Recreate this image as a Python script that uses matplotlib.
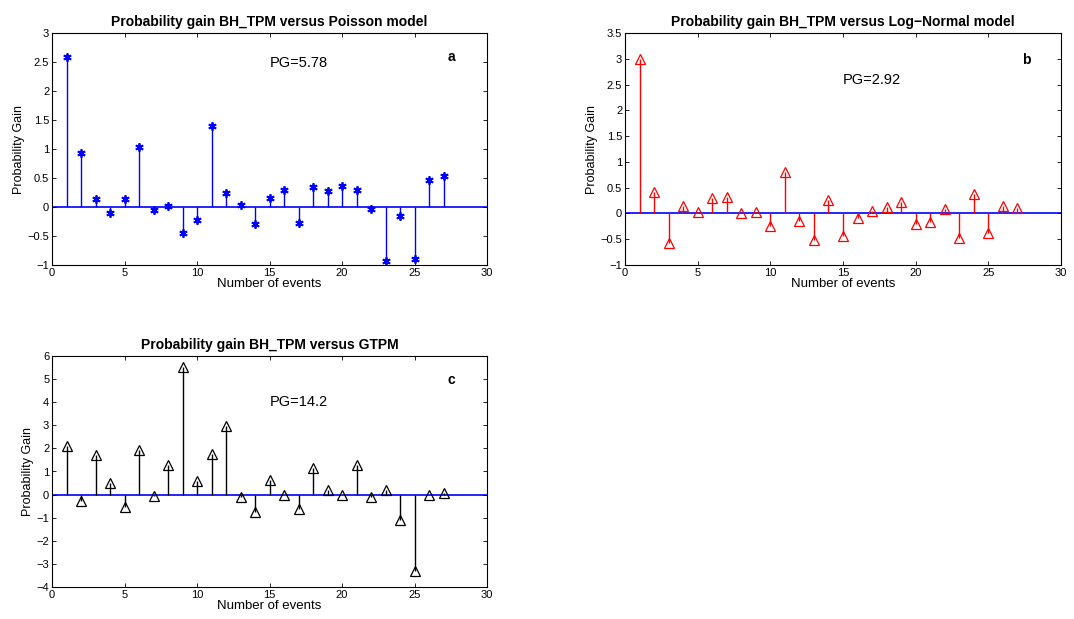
import matplotlib
matplotlib.use("Agg")
import matplotlib.pyplot as plt
import numpy as np

plt.rcParams['font.family'] = ['Liberation Sans', 'DejaVu Sans']

events = np.arange(1, 28)

pg_poisson = [2.59, 0.93, 0.13, -0.11, 0.13, 1.03, -0.05, 0.01, -0.45, -0.22,
              1.40, 0.24, 0.03, -0.29, 0.16, 0.30, -0.28, 0.34, 0.28, 0.36,
              0.29, -0.03, -0.93, -0.15, -0.90, 0.47, 0.54]
pg_lognormal = [3.00, 0.42, -0.58, 0.14, 0.03, 0.30, 0.32, 0.01, 0.02, -0.24,
                0.80, -0.14, -0.51, 0.26, -0.43, -0.08, 0.05, 0.12, 0.22, -0.20,
                -0.17, 0.09, -0.47, 0.37, -0.37, 0.15, 0.10]
pg_gtpm = [2.12, -0.29, 1.72, 0.49, -0.55, 1.95, -0.07, 1.30, 5.54, 0.59,
           1.77, 2.99, -0.10, -0.75, 0.65, -0.03, -0.62, 1.14, 0.20, 0.00,
           1.30, -0.12, 0.22, -1.11, -3.32, -0.01, 0.06]

titles = ['Probability gain BH_TPM versus Poisson model',
          'Probability gain BH_TPM versus Log\u2212Normal model',
          'Probability gain BH_TPM versus GTPM']
pg_text = ['PG=5.78', 'PG=2.92', 'PG=14.2']
letters = ['a', 'b', 'c']

fig = plt.figure(figsize=(10.74, 6.19), dpi=100)
W, H = 1074, 619


def px_axes(left, top, right, bottom):
    return fig.add_axes([left / W, 1 - bottom / H, (right - left) / W, (bottom - top) / H])


ax_a = px_axes(52, 33, 487, 265)
ax_b = px_axes(625, 33, 1061, 265)
ax_c = px_axes(52, 356, 487, 587)


def draw(ax, y, color, marker, ylim, yticks, title, pg, pg_y, letter, letter_y):
    ax.vlines(events, 0, y, color=color, lw=1)
    if marker == '*':
        # matlab-style asterisk: six spokes
        ax.plot(events, y, ls='none', marker=(6, 2, 0), color=color, ms=6,
                markeredgewidth=1.3)
    else:
        ax.plot(events, y, ls='none', marker=marker, ms=6.5, mfc='none',
                mec=color, mew=0.9)
    ax.axhline(0, color='#0000ff', lw=1.2, zorder=1)
    ax.set_xlim(0, 30)
    ax.set_ylim(*ylim)
    ax.set_xticks(range(0, 31, 5))
    ax.set_yticks(yticks)
    ax.set_yticklabels([('%g' % t).replace('-', '\u2212') for t in yticks])
    ax.tick_params(direction='in', top=True, right=True, labelsize=8,
                   length=3, width=0.6, pad=2)
    for s in ax.spines.values():
        s.set_linewidth(0.8)
    ax.set_title(title, fontsize=10, fontweight='bold', pad=5)
    ax.set_xlabel('Number of events', fontsize=9.5, labelpad=0)
    ax.set_ylabel('Probability Gain', fontsize=9, labelpad=1.5)
    ax.text(15, pg_y, pg, fontsize=10.5, va='center', ha='left')
    ax.text(27.3, letter_y, letter, fontsize=10, fontweight='bold', va='center', ha='left')


draw(ax_a, pg_poisson, '#0000ff', '*', (-1, 3), np.arange(-1, 3.01, 0.5),
     titles[0], pg_text[0], 2.49, letters[0], 2.58)
draw(ax_b, pg_lognormal, '#ff0000', '^', (-1, 3.5), np.arange(-1, 3.51, 0.5),
     titles[1], pg_text[1], 2.59, letters[1], 2.98)
draw(ax_c, pg_gtpm, 'black', '^', (-4, 6), np.arange(-4, 6.1, 1),
     titles[2], pg_text[2], 4.01, letters[2], 4.95)

fig.savefig('out.png', dpi=100)
